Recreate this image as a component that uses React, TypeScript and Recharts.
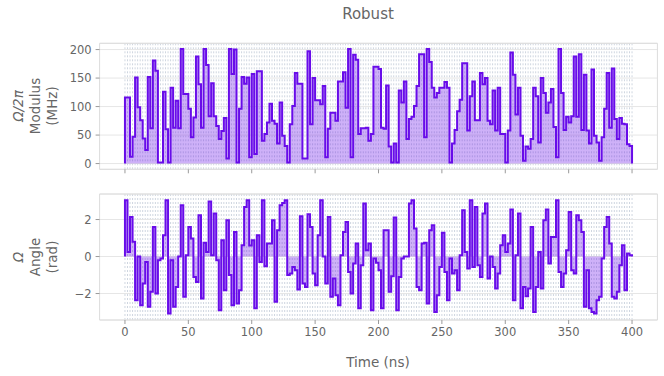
import React from 'react';
import { ComposedChart, Area, XAxis, YAxis, CartesianGrid, ReferenceArea } from 'recharts';

// Segment duration in ns (200 piecewise-constant segments over 400 ns)
const segmentDuration = 2;

// Ω/2π modulus (MHz), one value per segment
const modulusValues: number[] = [
  116, 116, 12, 47, 151, 99, 76, 44, 24, 152, 62, 181, 163, 2, 2, 126, 60, 2, 133, 63,
  110, 62, 201, 122, 122, 96, 46, 81, 188, 139, 63, 201, 173, 83, 141, 83, 66, 43, 57, 80,
  9, 201, 157, 200, 2, 96, 152, 140,
  151, 11, 157, 17, 162, 162, 40, 52, 72, 105, 75, 70, 35, 107, 49, 31, 2, 69, 101, 159,
  140, 140, 9, 9, 197, 69, 150, 111, 111, 104, 136, 11, 61, 89, 89, 75, 144, 144, 160, 98,
  201, 11, 191, 182, 52, 62, 62, 63, 40, 52, 170, 170,
  166, 63, 61, 137, 30, 2, 35, 2, 128, 107, 144, 43, 78, 82, 101, 136, 192, 192, 46, 201,
  178, 133, 116, 124, 133, 133, 143, 133, 2, 35, 59, 92, 112, 176, 176, 58, 118, 144, 76, 76,
  159, 139, 150, 75, 69, 128, 58, 133, 52, 52,
  2, 58, 195, 156, 86, 133, 49, 5, 30, 26, 43, 133, 118, 37, 150, 124, 89, 107, 131, 64,
  11, 201, 124, 59, 82, 72, 83, 188, 82, 192, 59, 156, 58, 35, 165, 49, 37, 5, 46, 96,
  159, 63, 167, 78, 43, 80, 70, 69, 34, 31,
];

// Ω angle (rad), one value per segment
const angleValues: number[] = [
  3.04, 0.25, 2.14, 0.8, -2.36, 0, -2.63, -1.46, -0.29, -2.72, -1.9, 1.6, -2.0, -0.2, -0.1, 1.15, 3.04, -3.08, -0.2, -2.72,
  -1.64, 0, 2.77, -2.18, 0.07, 1.6, 0.97, -1.1, -1.37, 2.23, -2.27, 0.74, 0.25, 2.98, 0.07, 2.32, -0.2, -2.9, 0.88, -1.82,
  1.96, -1.0, -2.63, 1.33, -2.54, -1.82, 0.61, 2.68,
  3.04, 0.6, 0.88, -2.8, 1.15, -0.29, 3.04, -0.52, 0.7, 0.7, 1.96, -2.45, 1.42, 2.77, 2.9, 3.04, -1.0, -0.92, -0.56, -0.74,
  -1.78, 2.18, -1.46, -1.64, 2.29, 1.6, -0.92, -1.55, 1.15, 3.04, 0, -1.46, 2.14, -2.18, -1.19, -2.09, -2.63, 0.07, 1.33, 1.87,
  -0.83, -2.0, -0.38, 0.7, -2.8, -0.47, 2.86, 0.34, 0.7, -2.9, -0.1, -0.34,
  -0.74, -2.8, 1.42, 1.42, -1.9, -1.07, 2.11, -2.9, -1.1, -0.1, 0, 0, 2.86, 3.04, 1.51, -1.64, -1.82, 0.7, 0.74, -2.54,
  1.42, 1.69, -3.0, -2.09, -0.56, 1.28, -0.83, -2.36, -0.1, -0.92, -0.74, -1.82, 0.07, 2.5, 0.25, -0.65, 3.04, -0.56, 2.68, -0.47,
  -1.1, 2.32, 2.86, -1.19, 0, -0.56, -1.73, -0.92, 0.61, 1.15,
  0.25, 0.7, 2.54, -2.36, 0.07, 2.32, -2.8, -1.64, -2.14, -1.73, 1.6, -3.0, -1.64, 0.25, -1.73, 1.96, 2.54, -0.38, 1.06,
  1.06, 3.04, -0.83, -1.64, -0.92, 0.34, 2.41, -0.74, -0.92, 2.23, 1.96, 1.33, -2.72, -0.74, -2.8, -3.0, -3.08, -2.36, -2.18,
  -0.1, 1.6, 2.14, 0.7, -2.18, -2.27, -1.9, -0.47, 0.61, -1.82, 0.16, 0.07,
];

const timeTicks = [0, 50, 100, 150, 200, 250, 300, 350, 400];
const modulusTicks = [0, 50, 100, 150, 200];
const angleTicks = [-2, 0, 2];

const xDomain: [number, number] = [-20, 420];
const modDomain: [number, number] = [-10.05, 211];
const angDomain: [number, number] = [-3.43, 3.38];

const boundaries = Array.from({ length: modulusValues.length + 1 }, (_, i) => i * segmentDuration);

function buildSteps(values: number[]) {
  const pts: { t: number; v: number }[] = [{ t: 0, v: 0 }];
  values.forEach((v, i) => pts.push({ t: i * segmentDuration, v }));
  const end = values.length * segmentDuration;
  pts.push({ t: end, v: values[values.length - 1] });
  pts.push({ t: end, v: 0 });
  return pts;
}

const modData = buildSteps(modulusValues);
const angData = buildSteps(angleValues);

const FONT = '"DejaVu Sans", Verdana, sans-serif';
const TEXT = '#666666';
const PURPLE = '#680CE9';
const tickStyle = { fill: TEXT, fontSize: 11.5, fontFamily: FONT };
const fmtMinus = (v: number) => (v < 0 ? '\u2212' + Math.abs(v) : String(v));

// vertical grid lines at every segment boundary, placed through the x scale
const boundaryGenerator = (props: any) => {
  const xAxis = props && props.xAxis;
  const scale = xAxis && xAxis.scale;
  if (typeof scale === 'function') {
    return boundaries.map((b) => scale(b));
  }
  const off = props.offset;
  return boundaries.map((b) => off.left + ((b - xDomain[0]) / (xDomain[1] - xDomain[0])) * off.width);
};

function Panel({ data, yDomain, yTicks, top, height, marginTop, xAxisHeight, showXLabels }: any) {
  return (
    <div style={{ position: 'absolute', left: 0, top, width: 664, height }}>
      <ComposedChart width={664} height={height} data={data} margin={{ top: marginTop, right: 6.6, bottom: 0, left: 0 }}>
        <CartesianGrid horizontal={false} verticalCoordinatesGenerator={boundaryGenerator} stroke="#cfd6e0" strokeDasharray="2 2" />
        <CartesianGrid vertical={false} stroke="#e6e6e6" />
        <XAxis
          type="number"
          dataKey="t"
          domain={xDomain}
          ticks={timeTicks}
          allowDataOverflow
          axisLine={false}
          tickLine={{ stroke: '#9a9a9a' }}
          tickSize={4}
          tickMargin={4}
          height={xAxisHeight}
          tick={tickStyle}
          tickFormatter={showXLabels ? (v: number) => String(v) : () => ''}
        />
        <YAxis
          type="number"
          domain={yDomain}
          ticks={yTicks}
          allowDataOverflow
          width={99.6}
          axisLine={false}
          tickLine={{ stroke: '#9a9a9a' }}
          tickSize={4}
          tickMargin={4}
          tick={tickStyle}
          tickFormatter={fmtMinus}
        />
        <ReferenceArea x1={xDomain[0]} x2={xDomain[1]} y1={yDomain[0]} y2={yDomain[1]} fill="none" fillOpacity={0} stroke="#dcdcdc" strokeOpacity={1} />
        <Area
          type="stepAfter"
          dataKey="v"
          stroke={PURPLE}
          strokeWidth={2}
          fill={PURPLE}
          fillOpacity={0.32}
          baseValue={0}
          dot={false}
          activeDot={false}
          isAnimationActive={false}
        />
      </ComposedChart>
    </div>
  );
}

function RotLabel({ lines, cy, xs, italicFirst }: { lines: string[]; cy: number; xs: number[]; italicFirst?: boolean }) {
  return (
    <>
      {lines.map((l, i) => (
        <text
          key={i}
          x={xs[i]}
          y={cy}
          transform={`rotate(-90 ${xs[i]} ${cy})`}
          textAnchor="middle"
          dominantBaseline="central"
          fontSize={13.5}
          fontFamily={FONT}
          fill={TEXT}
          fontStyle={italicFirst && i === 0 ? 'italic' : 'normal'}
        >
          {l}
        </text>
      ))}
    </>
  );
}

export default function App() {
  return (
    <div style={{ position: 'absolute', left: 0, top: 0, width: 664, height: 376, background: '#fff', overflow: 'hidden' }}>
      <Panel data={modData} yDomain={modDomain} yTicks={modulusTicks} top={0} height={190} marginTop={43.3} xAxisHeight={20.7} showXLabels={false} />
      <Panel data={angData} yDomain={angDomain} yTicks={angleTicks} top={180} height={196} marginTop={14} xAxisHeight={56} showXLabels={true} />
      <svg width={664} height={376} style={{ position: 'absolute', left: 0, top: 0, pointerEvents: 'none' }}>
        <text x={368} y={14} textAnchor="middle" dominantBaseline="central" fontSize={15} fontFamily={FONT} fill={TEXT}>
          Robust
        </text>
        <RotLabel lines={['\u03A9/2\u03C0', 'Modulus', '(MHz)']} cy={106} xs={[18, 35, 52]} italicFirst />
        <RotLabel lines={['\u03A9', 'Angle', '(rad)']} cy={257} xs={[18, 35, 52]} italicFirst />
        <text x={378} y={362} textAnchor="middle" dominantBaseline="central" fontSize={13.5} fontFamily={FONT} fill={TEXT}>
          Time (ns)
        </text>
      </svg>
    </div>
  );
}
